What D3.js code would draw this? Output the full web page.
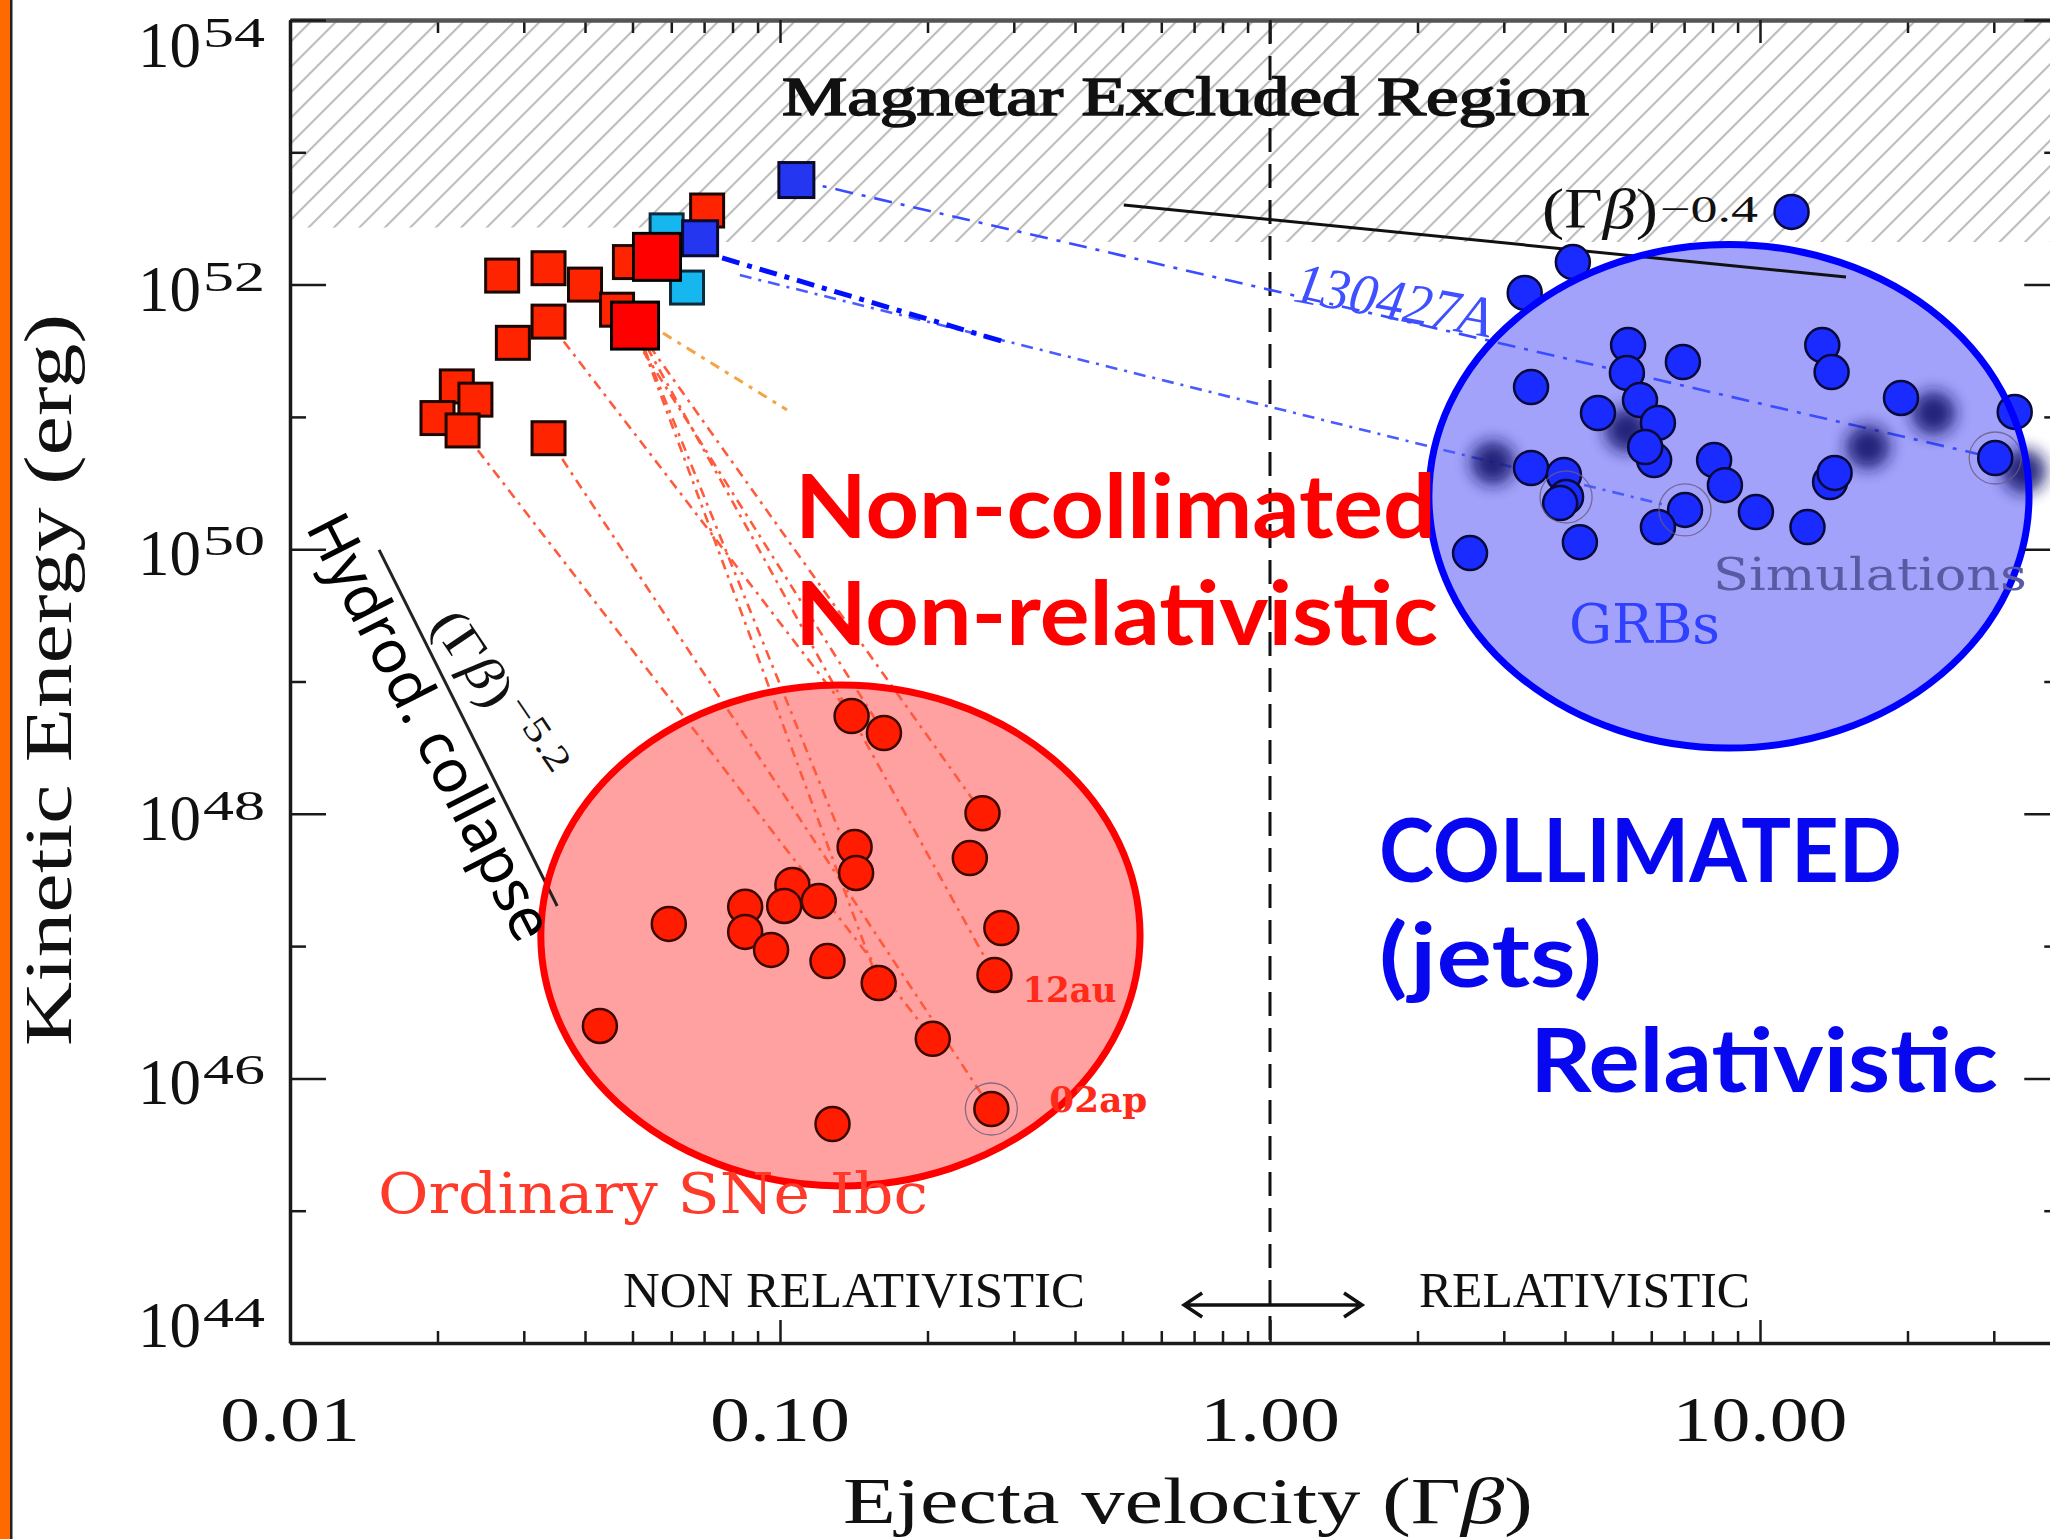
<!DOCTYPE html>
<html>
<head>
<meta charset="utf-8">
<script src="https://cdn.jsdelivr.net/npm/d3@7"></script>
<style>
  body { margin: 0; background: #fff; }
  svg { display: block; }
</style>
</head>
<body>
<svg id="chart" width="2050" height="1539"></svg>
<script>
// ---------- axis ticks ----------
const xTickValues = [0.01, 0.1, 1, 10];
const xTickLabels = ["0.01", "0.10", "1.00", "10.00"];
const yTickValues = [1e44, 1e46, 1e48, 1e50, 1e52, 1e54];
const yTickExponents = ["44", "46", "48", "50", "52", "54"];
const yMinorValues = [1e45, 1e47, 1e49, 1e51, 1e53];

// ---------- SNe Ibc: slow ejecta (squares) [Γβ, E_k (erg)] ----------
const snSquares = [
  [0.0271, 1.17e52], [0.0337, 1.33e52], [0.0400, 1.00e52], [0.0465, 6.46e51],
  [0.0494, 1.48e52], [0.0337, 5.25e51], [0.0285, 3.63e51], [0.0219, 1.70e51],
  [0.0200, 9.8e50], [0.0239, 1.35e51], [0.0225, 7.9e50], [0.0337, 6.9e50],
  [0.0710, 3.63e52]
];
const snSquaresHighlight = [[0.0561, 1.62e52], [0.0506, 4.9e51]];
const grbSquaresCyan = [[0.0587, 2.57e52], [0.0646, 9.5e51]];
const grbSquaresBlue = [[0.0687, 2.24e52], [0.108, 6.17e52]];

// ---------- SNe Ibc: fast ejecta (circles) ----------
const snCircles = [
  [0.140, 5.48e48], [0.163, 4.08e48], [0.259, 1.01e48], [0.142, 5.61e47],
  [0.143, 3.57e47], [0.244, 4.63e47], [0.106, 2.90e47], [0.102, 2.01e47],
  [0.120, 2.19e47], [0.0849, 1.98e47], [0.0849, 1.28e47], [0.0593, 1.47e47],
  [0.0959, 9.35e46], [0.283, 1.37e47], [0.125, 7.71e46], [0.159, 5.26e46],
  [0.274, 6.05e46], [0.0429, 2.49e46], [0.205, 1.99e46], [0.270, 5.87e45],
  [0.128, 4.52e45]
];
const snRinged = [[0.270, 5.87e45]];
const snNamed = [["12au", 0.274, 6.05e46], ["02ap", 0.270, 5.87e45]];

// ---------- GRBs (circles) ----------
const grbCircles = [
  [11.6, 3.54e52], [4.15, 1.48e52], [3.31, 8.65e51], [5.38, 3.49e51],
  [6.96, 2.60e51], [5.35, 2.15e51], [13.4, 3.49e51], [14.0, 2.18e51],
  [3.41, 1.68e51], [4.67, 1.07e51], [5.69, 1.34e51], [6.19, 9.0e50],
  [19.4, 1.39e51], [33.1, 1.09e51], [6.08, 4.72e50], [5.83, 5.92e50],
  [8.06, 4.72e50], [8.48, 3.05e50], [3.41, 4.11e50], [3.98, 3.64e50],
  [4.02, 2.48e50], [3.91, 2.23e50], [7.03, 1.98e50], [6.19, 1.47e50],
  [4.29, 1.13e50], [2.56, 9.35e49], [9.81, 1.91e50], [12.5, 1.47e50],
  [13.9, 3.22e50], [14.2, 3.77e50], [30.2, 4.89e50]
];
const grbRinged = [[7.03, 1.98e50], [30.2, 4.89e50], [4.02, 2.48e50]];
const simulationBlobs = [[2.85, 4.49e50], [16.6, 5.92e50], [22.6, 1.07e51], [34.6, 3.90e50], [5.35, 7.96e50]];

// ---------- connecting tracks ----------
const snLinks = [
  [[0.0225, 7.9e50], [0.205, 1.99e46]],
  [[0.0337, 6.9e50], [0.270, 5.87e45]],
  [[0.0337, 5.25e51], [0.140, 5.48e48]],
  [[0.0465, 6.46e51], [0.163, 4.08e48]],
  [[0.0506, 4.9e51], [0.259, 1.01e48]],
  [[0.0506, 4.9e51], [0.143, 3.57e47]],
  [[0.0506, 4.9e51], [0.274, 6.05e46]],
  [[0.0506, 4.9e51], [0.159, 5.26e46]]
];
const orangeLink = [[0.0577, 4.3e51], [0.1033, 1.13e51]];
const grbLink130427A = [[0.108, 6.17e52], [30.2, 4.89e50]];
const grbLinkDashed = [[0.0762, 1.59e52], [0.292, 3.62e51]];
const grbLinkDotted = [[0.0828, 1.18e52], [7.03, 1.98e50]];

// ---------- power laws, limits, regions ----------
const slopeShallow = [[0.503, 4.0e52], [14.98, 1.14e52]];   // (Γβ)^-0.4
const slopeSteep = [[0.0152, 9.87e49], [0.0351, 2.01e47]];   // (Γβ)^-5.2
const magnetarBoundary = [[0.01, 2.7e52], [0.076, 2.7e52], [0.076, 2.1e52], [41, 2.1e52]];
const snRegionBounds = [0.0325, 0.543, 1.54e45, 9.4e48];     // vmin, vmax, Emin, Emax
const grbRegionBounds = [2.11, 35.4, 3.14e48, 2.01e52];
const lightSpeedDivide = 1;
const regimeArrow = [[0.668, 1.94e44], [1.541, 1.94e44]];

// ---------- frame ----------
const W = 2050, H = 1539;
const plotLeft = 290, plotTop = 20, plotBottom = 1343, decadePx = 490;
const vMin = 0.01, vMax = 41;

const x = d3.scaleLog().domain([vMin, vMax])
  .range([plotLeft, plotLeft + decadePx * Math.log10(vMax / vMin)]);
const y = d3.scaleLog().domain([1e44, 1e54]).range([plotBottom, plotTop]);
const px = d => x(d[0]);
const py = d => y(d[1]);
const plotRight = x(vMax);

const svg = d3.select("#chart");
const defs = svg.append("defs");

defs.append("pattern")
  .attr("id", "hatch")
  .attr("patternUnits", "userSpaceOnUse")
  .attr("width", 18).attr("height", 18)
  .attr("patternTransform", "rotate(45)")
  .append("line")
  .attr("x1", 1).attr("y1", 0).attr("x2", 1).attr("y2", 18)
  .attr("stroke", "#bcbcbc").attr("stroke-width", 2.2);

defs.append("filter")
  .attr("id", "blob")
  .attr("x", "-100%").attr("y", "-100%").attr("width", "300%").attr("height", "300%")
  .append("feGaussianBlur").attr("stdDeviation", 8);

defs.append("clipPath").attr("id", "plotClip")
  .append("rect")
  .attr("x", plotLeft).attr("y", plotTop)
  .attr("width", plotRight - plotLeft).attr("height", plotBottom - plotTop);

svg.append("rect").attr("width", W).attr("height", H).attr("fill", "#fff");

// slide edge strip
svg.append("rect").attr("x", 0).attr("y", 0).attr("width", 10).attr("height", H).attr("fill", "#ff6a00");
svg.append("rect").attr("x", 10).attr("y", 0).attr("width", 2.5).attr("height", H).attr("fill", "#222");

const plot = svg.append("g").attr("clip-path", "url(#plotClip)");

// excluded region hatch
plot.append("path")
  .datum(magnetarBoundary)
  .attr("d", d3.area().x(px).y0(y(1e54)).y1(py))
  .attr("fill", "url(#hatch)");

// shaded regions (fills)
function ellipseFrom(b) {
  const x0 = x(b[0]), x1 = x(b[1]), y0 = y(b[3]), y1 = y(b[2]);
  return { cx: (x0 + x1) / 2, cy: (y0 + y1) / 2, rx: (x1 - x0) / 2, ry: (y1 - y0) / 2 };
}
const snEll = ellipseFrom(snRegionBounds);
const grbEll = ellipseFrom(grbRegionBounds);

plot.append("ellipse").attr("cx", snEll.cx).attr("cy", snEll.cy).attr("rx", snEll.rx).attr("ry", snEll.ry)
  .attr("fill", "#ffa1a1");
plot.append("ellipse").attr("cx", grbEll.cx).attr("cy", grbEll.cy).attr("rx", grbEll.rx).attr("ry", grbEll.ry)
  .attr("fill", "#a2a2fa");

// Γβ = 1 divide
plot.append("line")
  .attr("x1", x(lightSpeedDivide)).attr("x2", x(lightSpeedDivide))
  .attr("y1", plotTop).attr("y2", plotBottom)
  .attr("stroke", "#111").attr("stroke-width", 3).attr("stroke-dasharray", "24,12");

const line = d3.line().x(px).y(py);

// power-law guides
plot.append("path").datum(slopeShallow).attr("d", line)
  .attr("stroke", "#111").attr("stroke-width", 3).attr("fill", "none");
plot.append("path").datum(slopeSteep).attr("d", line)
  .attr("stroke", "#222").attr("stroke-width", 3).attr("fill", "none");

// SN tracks
plot.selectAll(".snlink").data(snLinks).join("path")
  .attr("class", "snlink")
  .attr("d", line)
  .attr("fill", "none")
  .attr("stroke", "#ff5a3c").attr("stroke-width", 2.6)
  .attr("stroke-dasharray", "10,6,3,6");

plot.append("path").datum(orangeLink).attr("d", line)
  .attr("fill", "none").attr("stroke", "#f5a445").attr("stroke-width", 3)
  .attr("stroke-dasharray", "10,7,4,7");

// GRB tracks
plot.append("path").datum(grbLink130427A).attr("d", line)
  .attr("fill", "none").attr("stroke", "#3a4cff").attr("stroke-width", 2.6)
  .attr("stroke-dasharray", "18,9,4,9");
plot.append("path").datum(grbLinkDotted).attr("d", line)
  .attr("fill", "none").attr("stroke", "#4a5cff").attr("stroke-width", 2.6)
  .attr("stroke-dasharray", "12,7,3,7");
plot.append("path").datum(grbLinkDashed).attr("d", line)
  .attr("fill", "none").attr("stroke", "#0010ff").attr("stroke-width", 5)
  .attr("stroke-dasharray", "18,8,5,8");

// simulation blobs
plot.selectAll(".blob").data(simulationBlobs).join("circle")
  .attr("class", "blob")
  .attr("cx", px).attr("cy", py).attr("r", 22)
  .attr("fill", "#15156e").attr("opacity", 0.9)
  .attr("filter", "url(#blob)");

// square markers
function squares(data, size, fill, stroke, cls) {
  plot.selectAll("." + cls).data(data).join("rect")
    .attr("class", cls)
    .attr("x", d => px(d) - size / 2).attr("y", d => py(d) - size / 2)
    .attr("width", size).attr("height", size)
    .attr("fill", fill).attr("stroke", stroke).attr("stroke-width", 3);
}
squares(snSquares, 33, "#ff2400", "#1d0500", "sq-sn");
squares(grbSquaresCyan, 33, "#16b6ee", "#0a2a40", "sq-cyan");
squares(grbSquaresBlue, 35, "#2436f0", "#0a0a30", "sq-blue");
squares(snSquaresHighlight, 47, "#ff0000", "#000", "sq-hi");

// circle markers
plot.selectAll(".c-sn").data(snCircles).join("circle")
  .attr("class", "c-sn")
  .attr("cx", px).attr("cy", py).attr("r", 17)
  .attr("fill", "#ff1c00").attr("stroke", "#3c0800").attr("stroke-width", 2.5);
plot.selectAll(".c-grb").data(grbCircles).join("circle")
  .attr("class", "c-grb")
  .attr("cx", px).attr("cy", py).attr("r", 17)
  .attr("fill", "#1a2bff").attr("stroke", "#0a0a3a").attr("stroke-width", 2.5);

plot.selectAll(".ring").data(snRinged.concat(grbRinged)).join("circle")
  .attr("class", "ring")
  .attr("cx", px).attr("cy", py).attr("r", 26)
  .attr("fill", "none").attr("stroke", "#6a5a80").attr("stroke-width", 1.3).attr("opacity", 0.8);

// ---------- axes ----------
const xMinor = [];
[0.01, 0.1, 1, 10].forEach(dec => { for (let k = 2; k <= 9; k++) { const v = k * dec; if (v < vMax) xMinor.push(v); } });

function styleAxis(g, keepDomain, color, width) {
  g.selectAll(".tick text").remove();
  g.selectAll(".tick line").attr("stroke", "#1a1a1a").attr("stroke-width", 2.5);
  if (keepDomain) g.select("path.domain").attr("stroke", color).attr("stroke-width", width);
  else g.select("path.domain").remove();
}

function axisPair(makeAxis, translate, majors, minors, majorLen, minorLen, color, width) {
  svg.append("g").attr("transform", translate)
    .call(makeAxis().tickValues(minors).tickSizeInner(-minorLen).tickSizeOuter(0).tickFormat(""))
    .call(g => styleAxis(g, false));
  svg.append("g").attr("transform", translate)
    .call(makeAxis().tickValues(majors).tickSizeInner(-majorLen).tickSizeOuter(0).tickFormat(""))
    .call(g => styleAxis(g, true, color, width));
}
axisPair(() => d3.axisBottom(x), `translate(0,${plotBottom})`, xTickValues, xMinor, 23, 12, "#1a1a1a", 3.5);
axisPair(() => d3.axisTop(x), `translate(0,${plotTop})`, xTickValues, xMinor, 23, 13, "#555", 4.5);
axisPair(() => d3.axisLeft(y), `translate(${plotLeft},0)`, yTickValues, yMinorValues, 36, 16, "#1a1a1a", 3.5);
axisPair(() => d3.axisRight(y), `translate(${plotRight},0)`, yTickValues, yMinorValues, 36, 16, "#1a1a1a", 3.5);

const serif = "'Liberation Serif', 'Times New Roman', serif";
const slab = "'DejaVu Serif', serif";
const sans = "'Noto Sans', 'Open Sans', sans-serif";
const headline = "Lato, 'Noto Sans', sans-serif";

// x tick labels
svg.selectAll(".xlab").data(xTickValues).join("text")
  .attr("class", "xlab")
  .attr("x", d => x(d)).attr("y", 1441)
  .attr("text-anchor", "middle")
  .attr("font-family", serif).attr("font-size", 64).attr("fill", "#111")
  .attr("textLength", (d, i) => 35 * xTickLabels[i].length)
  .attr("lengthAdjust", "spacingAndGlyphs")
  .text((d, i) => xTickLabels[i]);

// y tick labels: 10 with exponent
const yLabelBase = d => Math.max(67, Math.min(1347, y(d) + 26));
svg.selectAll(".ylab10").data(yTickValues).join("text")
  .attr("class", "ylab10")
  .attr("x", 138).attr("y", yLabelBase)
  .attr("font-family", serif).attr("font-size", 66).attr("fill", "#111")
  .attr("textLength", 63).attr("lengthAdjust", "spacingAndGlyphs")
  .text("10");
svg.selectAll(".ylabexp").data(yTickValues).join("text")
  .attr("class", "ylabexp")
  .attr("x", 203).attr("y", d => yLabelBase(d) - 20)
  .attr("font-family", serif).attr("font-size", 42).attr("fill", "#111")
  .attr("textLength", 62).attr("lengthAdjust", "spacingAndGlyphs")
  .text((d, i) => yTickExponents[i]);

// axis titles
const xTitle = svg.append("text")
  .attr("x", 843).attr("y", 1523)
  .attr("font-family", serif).attr("font-size", 66).attr("fill", "#111")
  .attr("textLength", 690).attr("lengthAdjust", "spacingAndGlyphs");
xTitle.append("tspan").text("Ejecta velocity (Γ");
xTitle.append("tspan").attr("font-style", "italic").text("β");
xTitle.append("tspan").text(")");

svg.append("text")
  .attr("transform", "translate(71,1046) rotate(-90)")
  .attr("font-family", serif).attr("font-size", 68).attr("fill", "#111")
  .attr("textLength", 732).attr("lengthAdjust", "spacingAndGlyphs")
  .text("Kinetic Energy (erg)");

// ---------- text annotations ----------
function label(str, xp, yp, opt) {
  const t = svg.append("text").attr("x", xp).attr("y", yp)
    .attr("font-family", opt.family).attr("font-size", opt.size)
    .attr("fill", opt.fill)
    .attr("font-weight", opt.weight || "normal")
    .attr("font-style", opt.style || "normal");
  if (opt.len) t.attr("textLength", opt.len).attr("lengthAdjust", "spacingAndGlyphs");
  if (opt.transform) t.attr("transform", opt.transform);
  if (opt.outline) t.attr("stroke", opt.fill).attr("stroke-width", opt.outline);
  t.text(str);
  return t;
}

label("Magnetar Excluded Region", 782, 115, { family: serif, size: 54, fill: "#111", len: 807, outline: 1.6 });

// (Γβ)^-0.4
const shallow = svg.append("text").attr("x", 1542).attr("y", 228)
  .attr("font-family", serif).attr("font-size", 58).attr("fill", "#111")
  .attr("textLength", 116).attr("lengthAdjust", "spacingAndGlyphs");
shallow.append("tspan").text("(Γ");
shallow.append("tspan").attr("font-style", "italic").text("β");
shallow.append("tspan").text(")");
label("−0.4", 1660, 222, { family: serif, size: 38, fill: "#111", len: 98 });

label("130427A", 0, 0, { family: serif, size: 58, fill: "#3e50ff", style: "italic", len: 200,
  transform: "translate(1292,301) rotate(10.5)" });

label("Simulations", 1713, 590, { family: slab, size: 44, fill: "#5a5aa2", len: 314 });
label("GRBs", 1569, 643, { family: slab, size: 54, fill: "#3040ff", len: 151 });
label("Ordinary SNe Ibc", 378, 1213, { family: slab, size: 56, fill: "#ff3a2a", len: 550 });

snNamed.forEach(d => {
  const offset = d[0] === "12au" ? [28, 27] : [58, 3];
  label(d[0], x(d[1]) + offset[0], y(d[2]) + offset[1],
    { family: slab, size: 36, fill: "#ff2a1a", weight: "bold", len: d[0] === "12au" ? 94 : 98 });
});

label("NON RELATIVISTIC", 623, 1307, { family: serif, size: 50, fill: "#111", len: 462 });
label("RELATIVISTIC", 1419, 1307, { family: serif, size: 50, fill: "#111", len: 331 });

// regime arrow
const ax0 = x(regimeArrow[0][0]), ax1 = x(regimeArrow[1][0]), ay = y(regimeArrow[0][1]);
svg.append("path")
  .attr("d", `M${ax0},${ay}L${ax1},${ay}M${ax0 + 18},${ay - 12}L${ax0},${ay}L${ax0 + 18},${ay + 12}` +
             `M${ax1 - 18},${ay - 12}L${ax1},${ay}L${ax1 - 18},${ay + 12}`)
  .attr("fill", "none").attr("stroke", "#111").attr("stroke-width", 3.5);

// hydrodynamic collapse annotation
const hyd = svg.append("g").attr("transform", "translate(305,527) rotate(63)");
hyd.append("text")
  .attr("font-family", sans).attr("font-size", 60).attr("fill", "#000")
  .attr("textLength", 470).attr("lengthAdjust", "spacingAndGlyphs")
  .text("Hydrod. collapse");

const steep = svg.append("g").attr("transform", "translate(430,624) rotate(56)");
const steepMain = steep.append("text")
  .attr("font-family", serif).attr("font-size", 52).attr("fill", "#111")
  .attr("textLength", 105).attr("lengthAdjust", "spacingAndGlyphs");
steepMain.append("tspan").text("(Γ");
steepMain.append("tspan").attr("font-style", "italic").text("β");
steepMain.append("tspan").text(")");
steep.append("text").attr("x", 110).attr("y", -18)
  .attr("font-family", serif).attr("font-size", 36).attr("fill", "#111")
  .attr("textLength", 84).attr("lengthAdjust", "spacingAndGlyphs")
  .text("−5.2");

// region outlines
plot.append("ellipse").attr("cx", snEll.cx).attr("cy", snEll.cy).attr("rx", snEll.rx).attr("ry", snEll.ry)
  .attr("fill", "none").attr("stroke", "#ff0000").attr("stroke-width", 7);
plot.append("ellipse").attr("cx", grbEll.cx).attr("cy", grbEll.cy).attr("rx", grbEll.rx).attr("ry", grbEll.ry)
  .attr("fill", "none").attr("stroke", "#0000ff").attr("stroke-width", 7);

// headline annotations
label("Non-collimated", 795, 538, { family: headline, size: 88, fill: "#ff0000", weight: "bold", len: 641 });
label("Non-relativistic", 795, 645, { family: headline, size: 88, fill: "#ff0000", weight: "bold", len: 643 });
label("COLLIMATED", 1379, 882, { family: headline, size: 88, fill: "#0808f0", weight: "bold", len: 523 });
label("(jets)", 1379, 987, { family: headline, size: 88, fill: "#0808f0", weight: "bold", len: 223 });
label("Relativistic", 1530, 1092, { family: headline, size: 88, fill: "#0808f0", weight: "bold", len: 468 });
</script>
</body>
</html>
